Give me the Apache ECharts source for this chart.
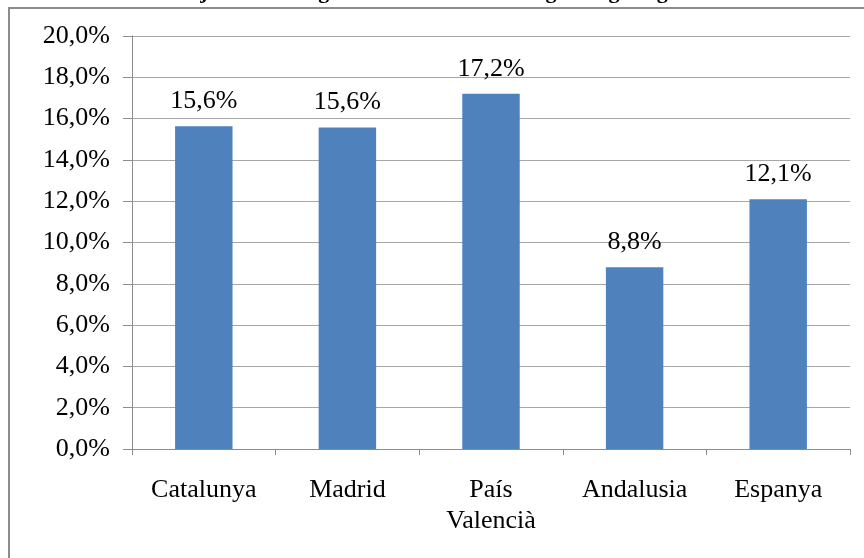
<!DOCTYPE html>
<html>
<head>
<meta charset="utf-8">
<script src="https://cdn.jsdelivr.net/npm/echarts@6/dist/echarts.min.js"></script>
<style>
  html, body { margin: 0; padding: 0; background: #fff; }
  #chart { width: 864px; height: 558px; }
</style>
</head>
<body>
<div id="chart"></div>
<script>
var categories = ["Catalunya", "Madrid", "País\nValencià", "Andalusia", "Espanya"];
var values = [15.63, 15.57, 17.2, 8.8, 12.1];
var yTicks = [0, 2, 4, 6, 8, 10, 12, 14, 16, 18, 20];
var titleText = "autònomes amb més joves nouvinguts del total dels estrangers segons gènere dones";

var serif = "'Liberation Serif', 'Times New Roman', serif";

var fmt = function (v) {
	return v.toFixed(1).replace(".", ",") + "%";
};

var chart = echarts.init(document.getElementById("chart"));

var option = {
	animation: false,
	backgroundColor: "#fff",
	graphic: [{
		type: "rect",
		shape: { x: 9, y: 8, width: 900, height: 600 },
		style: { fill: null, stroke: "#8c8c8c", lineWidth: 2 },
		silent: true
	}, {
		type: "text",
		x: 4,
		y: 3,
		style: {
			text: titleText,
			font: "bold 22px " + serif,
			fill: "#000",
			verticalAlign: "bottom"
		},
		silent: true
	}],
	grid: {
		left: 132,
		right: 14,
		top: 36,
		bottom: 109,
		containLabel: false
	},
	xAxis: {
		type: "category",
		data: categories,
		axisLine: { lineStyle: { color: "#8c8c8c", width: 1 } },
		axisTick: { show: true, length: 6, lineStyle: { color: "#8c8c8c" } },
		axisLabel: {
			color: "#000",
			fontFamily: serif,
			fontSize: 26,
			lineHeight: 31,
			margin: 26
		}
	},
	yAxis: {
		type: "value",
		min: yTicks[0],
		max: yTicks[yTicks.length - 1],
		interval: 2,
		axisLine: { show: true, lineStyle: { color: "#8c8c8c", width: 1 } },
		axisTick: { show: true, inside: false, length: 9, lineStyle: { color: "#8c8c8c" } },
		splitLine: { lineStyle: { color: "#a6a6a6", width: 1 } },
		axisLabel: {
			color: "#000",
			fontFamily: serif,
			fontSize: 26,
			margin: 22,
			formatter: function (v) { return fmt(v); }
		}
	},
	series: [{
		type: "bar",
		data: values,
		barCategoryGap: "60%",
		itemStyle: { color: "#4f81bd" },
		label: {
			show: true,
			position: "top",
			distance: 12,
			color: "#000",
			fontFamily: serif,
			fontSize: 26,
			formatter: function (p) { return fmt(p.value); }
		}
	}]
};

chart.setOption(option);
</script>
</body>
</html>
